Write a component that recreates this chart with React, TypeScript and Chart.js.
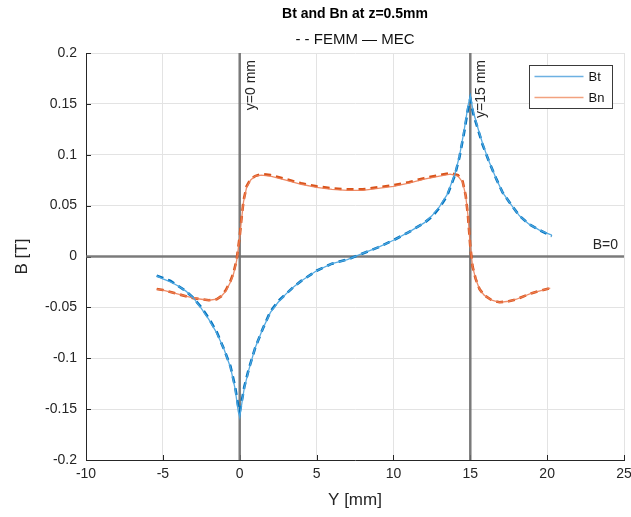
import React, { useEffect, useRef } from "react";
import { Chart, registerables } from "chart.js";

Chart.register(...registerables);

const FONT = "'Liberation Sans', Arial, Helvetica, sans-serif";

const titleText = "Bt and Bn at z=0.5mm";
const subtitleText = "- - FEMM \u2014 MEC";
const xTitle = "Y [mm]";
const yTitle = "B [T]";
const refLineX = [0, 15];
const refLineXLabels = ["y=0 mm", "y=15 mm"];
const refLineYLabel = "B=0";
const legendLabels = ["Bt", "Bn"];

const btX = [-5.4, -5, -4.5, -4, -3.5, -3, -2.5, -2, -1.5, -1, -0.6, -0.3, -0.1, 0, 0.1, 0.3, 0.6, 1, 1.5, 2, 2.5, 3, 3.5, 4, 5, 6, 7, 8, 9, 10, 11, 12, 12.5, 13, 13.5, 14, 14.3, 14.6, 14.85, 15, 15.2, 15.5, 15.8, 16.2, 16.7, 17.1, 17.7, 18.2, 18.8, 19.5, 20.3];
const btFEMM = [-0.019, -0.021, -0.024, -0.029, -0.034, -0.041, -0.05, -0.061, -0.074, -0.092, -0.108, -0.128, -0.147, -0.153, -0.145, -0.128, -0.11, -0.09, -0.071, -0.054, -0.044, -0.037, -0.03, -0.024, -0.014, -0.007, -0.003, 0.003, 0.009, 0.016, 0.024, 0.033, 0.039, 0.048, 0.06, 0.08, 0.098, 0.122, 0.145, 0.155, 0.14, 0.125, 0.11, 0.094, 0.076, 0.063, 0.05, 0.04, 0.032, 0.026, 0.02];
const btMEC = [-0.019, -0.022, -0.025, -0.029, -0.034, -0.041, -0.051, -0.062, -0.075, -0.092, -0.109, -0.13, -0.152, -0.158, -0.148, -0.129, -0.111, -0.09, -0.071, -0.055, -0.045, -0.037, -0.03, -0.024, -0.014, -0.007, -0.003, 0.003, 0.009, 0.016, 0.024, 0.033, 0.04, 0.049, 0.061, 0.081, 0.099, 0.124, 0.148, 0.158, 0.142, 0.126, 0.111, 0.094, 0.076, 0.063, 0.05, 0.04, 0.032, 0.026, 0.021];

const bnX = [-5.4, -5, -4.5, -4, -3.5, -3, -2.5, -2, -1.5, -1.2, -0.9, -0.6, -0.4, -0.2, -0.1, 0, 0.1, 0.25, 0.45, 0.7, 1, 1.4, 2, 3, 4, 5, 6, 7, 8, 9, 10, 11, 12, 13, 13.7, 14.2, 14.5, 14.7, 14.85, 15, 15.15, 15.35, 15.6, 15.9, 16.4, 16.9, 17.5, 18, 19, 20.2];
const bnFEMM = [-0.032, -0.033, -0.035, -0.037, -0.039, -0.041, -0.042, -0.043, -0.042, -0.039, -0.033, -0.024, -0.016, -0.003, 0.008, 0.02, 0.035, 0.055, 0.069, 0.076, 0.079, 0.081, 0.08, 0.076, 0.072, 0.069, 0.067, 0.066, 0.066, 0.068, 0.07, 0.073, 0.077, 0.08, 0.082, 0.08, 0.074, 0.06, 0.04, 0.01, -0.01, -0.022, -0.032, -0.038, -0.043, -0.045, -0.044, -0.042, -0.036, -0.031];
const bnMEC = [-0.032, -0.033, -0.035, -0.037, -0.039, -0.041, -0.042, -0.043, -0.042, -0.039, -0.034, -0.025, -0.017, -0.004, 0.007, 0.019, 0.034, 0.054, 0.068, 0.075, 0.079, 0.08, 0.079, 0.075, 0.071, 0.068, 0.066, 0.065, 0.065, 0.067, 0.069, 0.072, 0.076, 0.079, 0.081, 0.079, 0.073, 0.06, 0.04, 0.01, -0.01, -0.022, -0.032, -0.038, -0.043, -0.045, -0.044, -0.042, -0.036, -0.031];

const pts = (xs: number[], ys: number[]) => xs.map((x, i) => ({ x, y: ys[i] }));

const BLUE = "#0072BD";
const ORANGE = "#D95319";
const BLUE_L = "rgba(77,166,224,0.95)";
const ORANGE_L = "rgba(236,128,88,0.9)";
const BLUE_LEG = "#6DB1E2";
const ORANGE_LEG = "#F2A27F";

const overlay = {
  id: "overlay",
  beforeDatasetsDraw(chart: any) {
    const { ctx, chartArea: a, scales } = chart;
    const xs = scales.x;
    const ys = scales.y;
    ctx.save();
    // inward ticks
    ctx.strokeStyle = "#262626";
    ctx.lineWidth = 1;
    xs.ticks.forEach((t: any) => {
      const px = Math.round(xs.getPixelForValue(t.value)) + 0.5;
      ctx.beginPath();
      ctx.moveTo(px, a.bottom);
      ctx.lineTo(px, a.bottom - 5);
      ctx.stroke();
    });
    ys.ticks.forEach((t: any) => {
      const py = Math.round(ys.getPixelForValue(t.value)) + 0.5;
      ctx.beginPath();
      ctx.moveTo(a.left, py);
      ctx.lineTo(a.left + 5, py);
      ctx.stroke();
    });
    // reference lines
    ctx.strokeStyle = "rgba(110,110,110,0.9)";
    ctx.lineWidth = 2.5;
    refLineX.forEach((v) => {
      const px = xs.getPixelForValue(v);
      ctx.beginPath();
      ctx.moveTo(px, a.top);
      ctx.lineTo(px, a.bottom);
      ctx.stroke();
    });
    const py0 = ys.getPixelForValue(0);
    ctx.beginPath();
    ctx.moveTo(a.left, py0);
    ctx.lineTo(a.right, py0);
    ctx.stroke();
    ctx.restore();
  },
  afterDraw(chart: any) {
    const { ctx, chartArea: a, scales } = chart;
    const xs = scales.x;
    const ys = scales.y;
    const cx = (a.left + a.right) / 2;
    ctx.save();
    ctx.fillStyle = "#262626";
    // reference labels
    ctx.font = `14px ${FONT}`;
    refLineX.forEach((v, i) => {
      const px = xs.getPixelForValue(v);
      ctx.save();
      ctx.translate(px + 4, a.top + 7);
      ctx.rotate(-Math.PI / 2);
      ctx.textAlign = "right";
      ctx.textBaseline = "top";
      ctx.fillText(refLineXLabels[i], 0, 0);
      ctx.restore();
    });
    ctx.textAlign = "right";
    ctx.textBaseline = "bottom";
    ctx.fillText(refLineYLabel, a.right - 6, ys.getPixelForValue(0) - 4);
    // titles
    ctx.textAlign = "center";
    ctx.textBaseline = "middle";
    ctx.fillStyle = "#000";
    ctx.font = `bold 14px ${FONT}`;
    ctx.fillText(titleText, cx, 14);
    ctx.font = `15px ${FONT}`;
    ctx.fillStyle = "#111";
    ctx.fillText(subtitleText, cx, 40);
    // axis titles
    ctx.fillStyle = "#262626";
    ctx.font = `17px ${FONT}`;
    ctx.fillText(xTitle, cx, 500);
    ctx.save();
    ctx.translate(22, (a.top + a.bottom) / 2);
    ctx.rotate(-Math.PI / 2);
    ctx.fillText(yTitle, 0, 0);
    ctx.restore();
    // legend
    const lx = 529.5, ly = 65.5, lw = 83, lh = 43;
    ctx.fillStyle = "#fff";
    ctx.fillRect(lx, ly, lw, lh);
    ctx.strokeStyle = "#3a3a3a";
    ctx.lineWidth = 1;
    ctx.strokeRect(lx, ly, lw, lh);
    const cols = [BLUE_LEG, ORANGE_LEG];
    ctx.font = `13px ${FONT}`;
    ctx.textAlign = "left";
    legendLabels.forEach((lab, i) => {
      const yy = ly + 11 + i * 21;
      ctx.strokeStyle = cols[i];
      ctx.lineWidth = 1.5;
      ctx.beginPath();
      ctx.moveTo(lx + 5, yy);
      ctx.lineTo(lx + 54, yy);
      ctx.stroke();
      ctx.fillStyle = "#111";
      ctx.fillText(lab, lx + 59, yy + 1);
    });
    ctx.restore();
  },
};

export default function App() {
  const ref = useRef<HTMLCanvasElement | null>(null);
  useEffect(() => {
    if (!ref.current) return;
    const tickFont = { family: FONT, size: 14 };
    const chart = new Chart(ref.current, {
      type: "scatter",
      data: {
        datasets: [
          { label: "Bt MEC", data: pts(btX, btMEC), showLine: true, borderColor: BLUE_L, borderWidth: 1.3, pointRadius: 0, order: 0 },
          { label: "Bn MEC", data: pts(bnX, bnMEC), showLine: true, borderColor: ORANGE_L, borderWidth: 1.3, pointRadius: 0, order: 0 },
          { label: "Bt FEMM", data: pts(btX, btFEMM), showLine: true, borderColor: BLUE, borderWidth: 2.6, borderDash: [7, 5], pointRadius: 0, order: 1 },
          { label: "Bn FEMM", data: pts(bnX, bnFEMM), showLine: true, borderColor: ORANGE, borderWidth: 2.6, borderDash: [7, 5], pointRadius: 0, order: 1 },
        ],
      },
      options: {
        animation: false,
        responsive: false,
        maintainAspectRatio: false,
        layout: { padding: { top: 53, right: 7, left: 0, bottom: 0 } },
        plugins: { legend: { display: false }, title: { display: false }, tooltip: { enabled: false } },
        scales: {
          x: {
            type: "linear",
            min: -10,
            max: 25,
            ticks: { stepSize: 5, font: tickFont, color: "#262626", padding: 6, maxRotation: 0 },
            grid: { color: "#e3e3e3", drawTicks: false },
            border: { color: "#262626", width: 1 },
            afterFit: (s: any) => {
              s.height = 57;
              s.paddingLeft = 0;
              s.paddingRight = 0;
            },
          },
          y: {
            type: "linear",
            min: -0.2,
            max: 0.2,
            ticks: {
              stepSize: 0.05,
              font: tickFont,
              color: "#262626",
              padding: 9,
              callback: (v: any) => String(Number(Number(v).toFixed(2))),
            },
            grid: { color: "#e3e3e3", drawTicks: false },
            border: { color: "#262626", width: 1 },
            afterFit: (s: any) => {
              s.width = 86;
              s.paddingTop = 0;
              s.paddingBottom = 0;
            },
          },
        },
      },
      plugins: [overlay],
    });
    return () => chart.destroy();
  }, []);
  return (
    <div style={{ position: "fixed", left: 0, top: 0, width: 631, height: 517, background: "#fff" }}>
      <canvas ref={ref} width={631} height={517} style={{ width: 631, height: 517, display: "block" }} />
    </div>
  );
}
